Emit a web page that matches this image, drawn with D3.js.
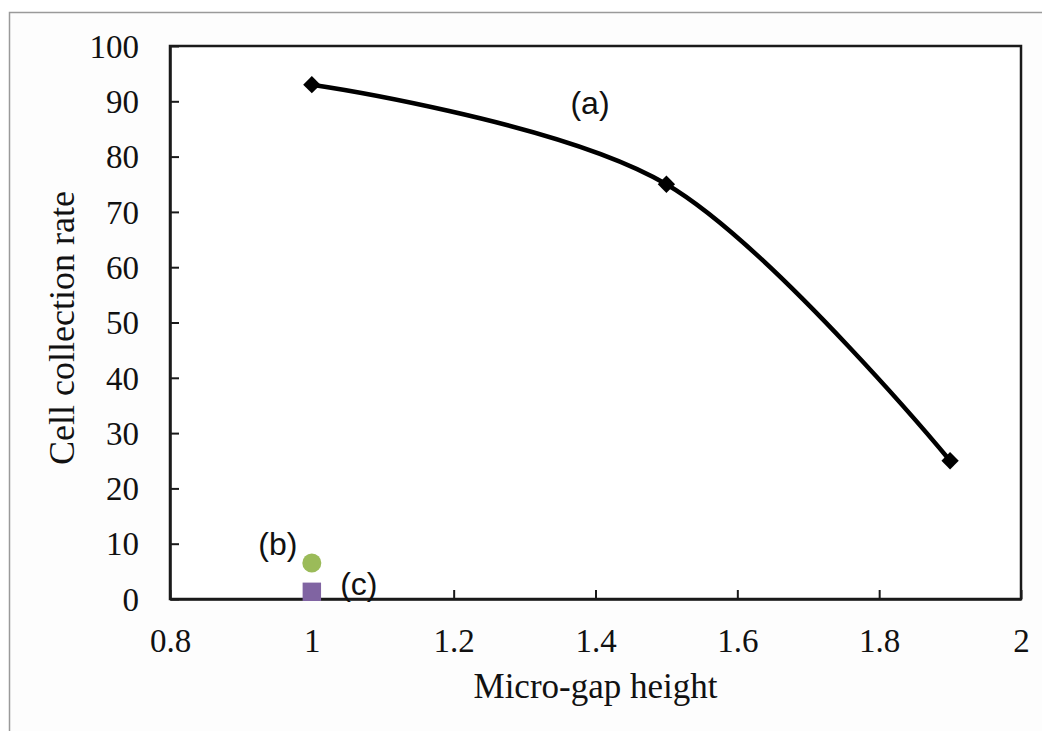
<!DOCTYPE html>
<html>
<head>
<meta charset="utf-8">
<script src="https://cdn.jsdelivr.net/npm/d3@7/dist/d3.min.js"></script>
<style>
  html, body { margin: 0; padding: 0; background: #fff; }
  svg { display: block; }
</style>
</head>
<body>
<svg id="chart" width="1042" height="731"></svg>
<script>
// Series (a): collection rate vs micro-gap height
const heightsA = [1.0, 1.5, 1.9];
const ratesA = [93, 75, 25];
// Single-point series (b) and (c)
const pointB = [1.0, 6.5];
const pointC = [1.0, 1.3];

const xTicks = [0.8, 1, 1.2, 1.4, 1.6, 1.8, 2];
const yTicks = [0, 10, 20, 30, 40, 50, 60, 70, 80, 90, 100];

const svg = d3.select("#chart");
const W = 1042, H = 731;
const m = { left: 170, top: 46, right: 1021, bottom: 599 };

// Outer frame
svg.append("rect")
  .attr("x", 9.5).attr("y", 12.5)
  .attr("width", W + 20).attr("height", H + 20)
  .attr("fill", "#fdfdfd").attr("stroke", "#9a9a9a").attr("stroke-width", 1.5);

const x = d3.scaleLinear().domain([0.8, 2]).range([m.left, m.right]);
const y = d3.scaleLinear().domain([0, 100]).range([m.bottom, m.top]);

// Plot box
svg.append("rect")
  .attr("x", m.left).attr("y", m.top)
  .attr("width", m.right - m.left).attr("height", m.bottom - m.top)
  .attr("fill", "#fff").attr("stroke", "#1a1a1a").attr("stroke-width", 2.5);

const serif = "Liberation Serif, Times New Roman, serif";
const sans = "Liberation Sans, Arial, sans-serif";

// Axes with inward ticks
const xAxis = d3.axisBottom(x).tickValues(xTicks).tickSizeInner(-9).tickSizeOuter(0)
  .tickPadding(30).tickFormat(d3.format("~g"));
const gx = svg.append("g").attr("transform", `translate(0,${m.bottom})`).call(xAxis);

const yAxis = d3.axisLeft(y).tickValues(yTicks).tickSizeInner(-9).tickSizeOuter(0)
  .tickPadding(31).tickFormat(d3.format("d"));
const gy = svg.append("g").attr("transform", `translate(${m.left},0)`).call(yAxis);

[gx, gy].forEach(g => {
  g.attr("font-family", serif).attr("font-size", 33);
  g.select(".domain").attr("stroke", "#1a1a1a").attr("stroke-width", 2.5);
  g.selectAll(".tick line").attr("stroke", "#1a1a1a").attr("stroke-width", 2);
  g.selectAll(".tick text").attr("fill", "#111");
});
gy.selectAll(".tick text").attr("dy", "0.34em");

// Axis titles
svg.append("text")
  .attr("x", (m.left + m.right) / 2).attr("y", 698)
  .attr("text-anchor", "middle").attr("fill", "#111")
  .attr("font-family", serif).attr("font-size", 35)
  .text("Micro-gap height");

svg.append("text")
  .attr("transform", "translate(74,328) rotate(-90)")
  .attr("text-anchor", "middle").attr("fill", "#111")
  .attr("font-family", serif).attr("font-size", 36)
  .text("Cell collection rate");

// Smoothed line for series (a)
const dataA = heightsA.map((h, i) => [h, ratesA[i]]);
svg.append("path")
  .datum(dataA)
  .attr("fill", "none").attr("stroke", "#000").attr("stroke-width", 4.5)
  .attr("stroke-linejoin", "round")
  .attr("d", d3.line().x(d => x(d[0])).y(d => y(d[1])).curve(d3.curveCardinal.tension(0)));

// Diamond markers
svg.selectAll(".diamond").data(dataA).enter().append("path")
  .attr("class", "diamond")
  .attr("transform", d => `translate(${x(d[0])},${y(d[1])}) rotate(45)`)
  .attr("d", d3.symbol().type(d3.symbolSquare).size(150))
  .attr("fill", "#000");

// Series (b): green circle
svg.append("circle")
  .attr("cx", x(pointB[0])).attr("cy", y(pointB[1])).attr("r", 9.5)
  .attr("fill", "#9bbb59");

// Series (c): purple square
svg.append("path")
  .attr("transform", `translate(${x(pointC[0])},${y(pointC[1])})`)
  .attr("d", d3.symbol().type(d3.symbolSquare).size(340))
  .attr("fill", "#8064a2");

// Series labels
svg.append("text").attr("x", 590).attr("y", 114)
  .attr("text-anchor", "middle").attr("fill", "#111")
  .attr("font-family", sans).attr("font-size", 32).text("(a)");
svg.append("text").attr("x", x(pointB[0]) - 34).attr("y", y(pointB[1]) - 8)
  .attr("text-anchor", "middle").attr("fill", "#111")
  .attr("font-family", sans).attr("font-size", 32).text("(b)");
svg.append("text").attr("x", x(pointC[0]) + 47).attr("y", y(pointC[1]) + 3)
  .attr("text-anchor", "middle").attr("fill", "#111")
  .attr("font-family", sans).attr("font-size", 32).text("(c)");
</script>
</body>
</html>
